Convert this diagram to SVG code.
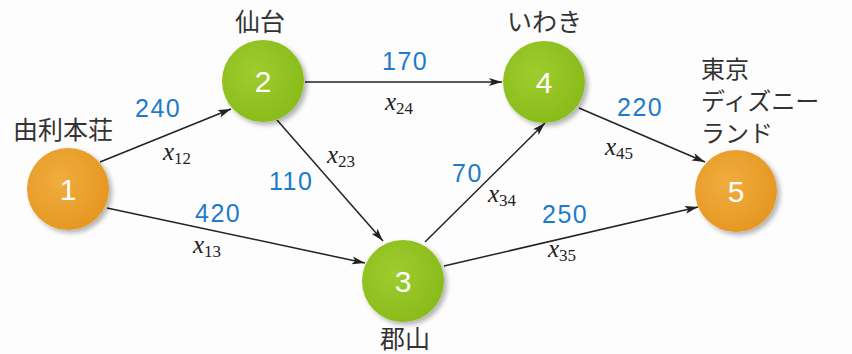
<svg xmlns="http://www.w3.org/2000/svg" width="852" height="354" viewBox="0 0 852 354">
<style>
.edge{stroke:#222;stroke-width:1.5;fill:none;marker-end:url(#arr)}
.num{font-family:"Liberation Sans",Arial,sans-serif;font-size:30px;fill:#fff;text-anchor:middle}
.cost{font-family:"Liberation Sans",Arial,sans-serif;font-size:25px;fill:#1f7bc9;letter-spacing:1.5px}
.var{font-family:"Liberation Serif","Times New Roman",serif;font-style:italic;font-size:25px;fill:#222}
.sub{font-style:normal;font-size:17px}
.jp{font-family:"Noto Sans CJK JP","Noto Sans",sans-serif;font-size:25px;fill:#333}
.jp2{font-family:"Noto Sans CJK JP","Noto Sans",sans-serif;font-size:24px;fill:#333}
</style>
<defs>
<marker id="arr" markerUnits="userSpaceOnUse" markerWidth="14" markerHeight="10" refX="13" refY="4" orient="auto">
<path d="M0,0 L13,4 L0,8 L3,4 z" fill="#222"/>
</marker>
<radialGradient id="gOr" cx="0.4" cy="0.4" r="0.7">
<stop offset="0" stop-color="#f0ad3e"/>
<stop offset="1" stop-color="#e4951f"/>
</radialGradient>
<radialGradient id="gGr" cx="0.4" cy="0.4" r="0.7">
<stop offset="0" stop-color="#9fcc2e"/>
<stop offset="1" stop-color="#86ba19"/>
</radialGradient>
<filter id="sh" x="-30%" y="-30%" width="160%" height="160%">
<feGaussianBlur in="SourceAlpha" stdDeviation="2.5"/>
<feOffset dx="3" dy="3" result="b"/>
<feComponentTransfer><feFuncA type="linear" slope="0.3"/></feComponentTransfer>
<feMerge><feMergeNode/><feMergeNode in="SourceGraphic"/></feMerge>
</filter>
</defs>
<rect width="852" height="354" fill="#fdfdfd"/>
<g id="connectors">
<line class="edge" x1="100" y1="162" x2="231" y2="109"/>
<line class="edge" x1="305" y1="82" x2="502" y2="82"/>
<line class="edge" x1="277" y1="120" x2="383" y2="241"/>
<line class="edge" x1="107" y1="208" x2="365" y2="263"/>
<line class="edge" x1="425" y1="242" x2="545" y2="123"/>
<line class="edge" x1="579" y1="108" x2="705" y2="162"/>
<line class="edge" x1="444" y1="266" x2="698" y2="207"/>
<text class="cost" x="135" y="117">240</text>
<text class="var" x="163" y="160">x<tspan class="sub" dy="4">12</tspan></text>
<text class="cost" x="382" y="70">170</text>
<text class="var" x="385" y="110">x<tspan class="sub" dy="4">24</tspan></text>
<text class="cost" x="269" y="190">110</text>
<text class="var" x="327" y="163">x<tspan class="sub" dy="4">23</tspan></text>
<text class="cost" x="195" y="222">420</text>
<text class="var" x="193" y="253">x<tspan class="sub" dy="4">13</tspan></text>
<text class="cost" x="452" y="182">70</text>
<text class="var" x="488" y="202">x<tspan class="sub" dy="4">34</tspan></text>
<text class="cost" x="617" y="116">220</text>
<text class="var" x="605" y="155">x<tspan class="sub" dy="4">45</tspan></text>
<text class="cost" x="542" y="223">250</text>
<text class="var" x="548" y="257">x<tspan class="sub" dy="4">35</tspan></text>
</g>
<g id="node1">
<circle cx="68" cy="189" r="41" fill="url(#gOr)" filter="url(#sh)"/>
<text class="num" x="68" y="200">1</text>
<text class="jp" x="13" y="139">由利本荘</text>
</g>
<g id="node2">
<circle cx="263" cy="81" r="41" fill="url(#gGr)" filter="url(#sh)"/>
<text class="num" x="263" y="92">2</text>
<text class="jp" x="235" y="31">仙台</text>
</g>
<g id="node3">
<circle cx="403" cy="281" r="41" fill="url(#gGr)" filter="url(#sh)"/>
<text class="num" x="403" y="292">3</text>
<text class="jp" x="380" y="348">郡山</text>
</g>
<g id="node4">
<circle cx="544" cy="82" r="41" fill="url(#gGr)" filter="url(#sh)"/>
<text class="num" x="544" y="93">4</text>
<text class="jp" x="507" y="31">いわき</text>
</g>
<g id="node5">
<circle cx="736" cy="191" r="41" fill="url(#gOr)" filter="url(#sh)"/>
<text class="num" x="736" y="202">5</text>
<text class="jp2" x="701" y="78">東京</text>
<text class="jp2" x="701" y="110">ディズニー</text>
<text class="jp2" x="701" y="142">ランド</text>
</g>
</svg>
